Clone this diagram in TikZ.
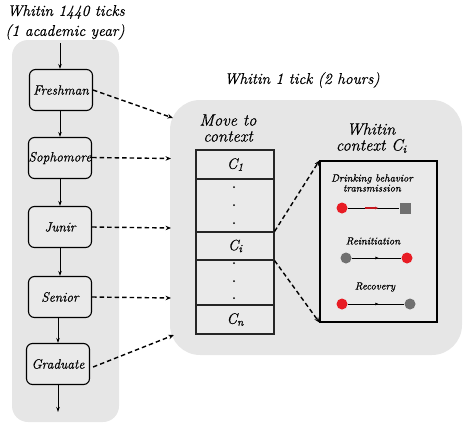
\documentclass[tikz,border=0pt]{standalone}
\usepackage{fontspec}
\setmainfont{Latin Modern Roman}[ItalicFeatures={FakeBold=0.5}]
\usetikzlibrary{arrows.meta,calc,decorations.markings}
\definecolor{panelgray}{RGB}{230,230,230}
\definecolor{boxgray}{RGB}{234,234,234}
\definecolor{dotred}{RGB}{232,28,36}
\definecolor{dotgray}{RGB}{112,112,112}
\begin{document}
\begin{tikzpicture}[x=1pt,y=-1pt,
  title/.style={font=\fontsize{15.5}{18}\selectfont\itshape, align=center},
  bigtitle/.style={font=\fontsize{16.5}{18}\selectfont\itshape, align=center},
  yearbox/.style={draw=black, line width=1.1pt, rounded corners=6pt, fill=boxgray, minimum width=63pt, minimum height=41pt, inner sep=0pt, font=\fontsize{13.5}{15}\selectfont\itshape},
  cell/.style={draw=black!85, line width=1.1pt, fill=boxgray, minimum width=78pt, inner sep=0pt, text=black, font=\fontsize{15}{16}\selectfont\itshape},
  flow/.style={line width=0.9pt, -{Stealth[length=5pt,width=3.5pt]}},
  dasharrow/.style={line width=1.4pt, dash pattern=on 4.5pt off 3pt, -{Stealth[length=5.5pt,width=4.5pt]}},
  small/.style={font=\fontsize{10.5}{12}\selectfont\itshape, align=center},
  dotnode/.style={circle, inner sep=0pt, minimum size=11pt},
  sqnode/.style={rectangle, inner sep=0pt, minimum size=11pt, fill=dotgray},
  link/.style={line width=1pt},
  midarrow/.style={postaction={decorate}, decoration={markings, mark=at position 0.55 with {\arrow{Latex[length=3.5pt,width=3pt]}}}}
]
\useasboundingbox (0,0) rectangle (474,432);
% panels
\fill[panelgray, rounded corners=16pt] (12,40) rectangle (119,422);
\fill[panelgray, rounded corners=30pt] (170,100) rectangle (462,355);
% titles
\node[title] (t1) at (66,12) {Whitin 1440 ticks};
\node[title] (t2) at (65,32) {(1 academic year)};
\node[title] (t3) at (302,80) {Whitin 1 tick (2 hours)};
% year boxes
\node[yearbox] (fr) at (61,90) {Freshman};
\node[yearbox] (so) at (60,158) {Sophomore};
\node[yearbox] (ju) at (60,227) {Junir};
\node[yearbox] (se) at (60,297) {Senior};
\node[yearbox] (gr) at (58,364) {Graduate};
\coordinate (topin) at (60,43);
\coordinate (botout) at (58,412);
\draw[flow] (topin) -- (topin |- fr.north);
\draw[flow] (so.north |- fr.south) -- (so.north);
\draw[flow] (so.south) -- (ju.north);
\draw[flow] (ju.south) -- (se.north);
\draw[flow] (gr.north |- se.south) -- (gr.north);
\draw[flow] (gr.south) -- (botout);
% move to context
\node[bigtitle] (mv) at (228,128) {Move to\\[-2pt]context};
\node[cell, minimum height=29pt] (c1) at (235,164.5) {C\raisebox{-0.3ex}{\fontsize{11}{12}\selectfont 1}};
\node[cell, minimum height=53pt] (d1) at (235,205.5) {};
\node[cell, minimum height=28pt] (ci) at (235,246) {C\raisebox{-0.3ex}{\fontsize{11}{12}\selectfont i}};
\node[cell, minimum height=45pt] (d2) at (235,282.5) {};
\node[cell, minimum height=29pt] (cn) at (235,319.5) {C\raisebox{-0.3ex}{\fontsize{11}{12}\selectfont n}};
\foreach \yy in {187,205,223,263,281,298} \fill (234,\yy) circle (1pt);
% dashed arrows from year boxes
\coordinate (e1) at (173,118);
\coordinate (e2) at (171,158.5);
\coordinate (e3) at (171,228);
\coordinate (e4) at (171,298);
\coordinate (e5) at (174,335);
\draw[dasharrow] (fr.east) -- (e1);
\draw[dasharrow] ([yshift=0.5pt]so.east) -- (e2);
\draw[dasharrow] (ju.east) -- (e3);
\draw[dasharrow] (se.east) -- (e4);
\draw[dasharrow] ([xshift=3pt,yshift=-3pt]gr.east) -- (e5);
% inner context box
\node[bigtitle] (wc) at (371,138) {Whitin\\[-2pt]context C\raisebox{-0.3ex}{\fontsize{11}{12}\selectfont i}};
\node[draw=black, line width=1.1pt, fill=boxgray, minimum width=117pt, minimum height=161pt, inner sep=0pt] (ctx) at (378.5,241.5) {};
\draw[dasharrow] (ci.north east) -- (ctx.north west);
\draw[dasharrow] (ci.south east) -- (ctx.south west);
% transmission
\node[small] (tr) at (372,183) {Drinking behavior\\[-2pt]transmission};
\node[dotnode, fill=dotred] (a1) at (342,208) {};
\node[sqnode] (b1) at (405,208) {};
\draw[link] (a1) -- (b1);
\draw[line width=1.1pt, dotred!85!black, -{Latex[length=3.5pt,width=3pt]}] ($(a1)!0.36!(b1)$) -- ($(a1)!0.58!(b1)$);
% reinitiation
\node[small] (re) at (373,241) {Reinitiation};
\node[dotnode, fill=dotgray] (a2) at (346,258) {};
\node[dotnode, fill=dotred] (b2) at (407,258) {};
\draw[link, midarrow] (a2) -- (b2);
% recovery
\node[small] (rc) at (375,287) {Recovery};
\node[dotnode, fill=dotred] (a3) at (342,304) {};
\node[dotnode, fill=dotgray] (b3) at (410,304) {};
\draw[link, midarrow] (a3) -- (b3);
\end{tikzpicture}
\end{document}
